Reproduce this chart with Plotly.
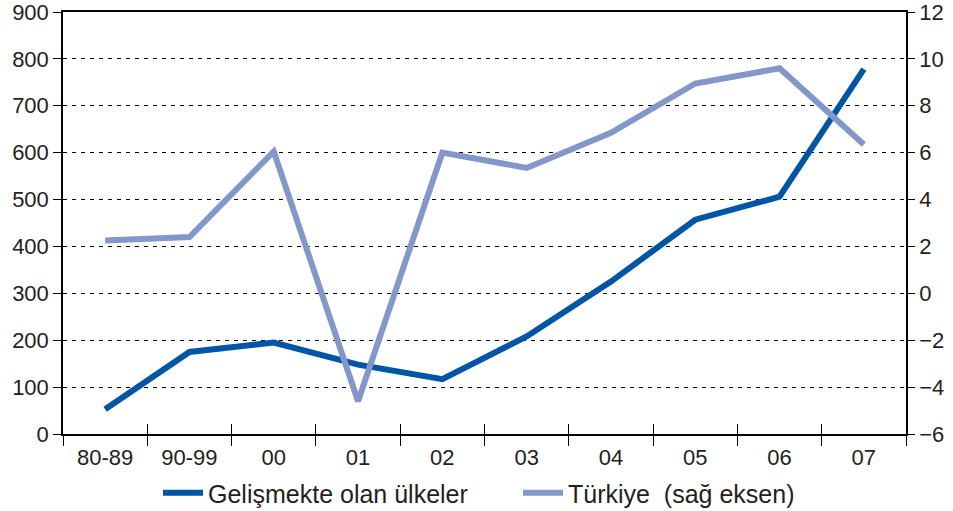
import plotly.graph_objects as go

categories = ["80-89", "90-99", "00", "01", "02", "03", "04", "05", "06", "07"]
gelismekte = [53, 175, 195, 148, 117, 208, 325, 457, 506, 778]
turkiye = [2.25, 2.4, 6.05, -4.6, 6.0, 5.35, 6.85, 8.95, 9.6, 6.35]
left_ticks = [0, 100, 200, 300, 400, 500, 600, 700, 800, 900]
right_ticks = [-6, -4, -2, 0, 2, 4, 6, 8, 10, 12]

DARK = "#0055A5"
LIGHT = "#8497CB"
TXT = "#231F20"
FONT = "Liberation Sans, Arial, sans-serif"
FS = 22

fig = go.Figure()
fig.add_trace(go.Scatter(x=categories, y=gelismekte, mode="lines",
                         name="Gelişmekte olan ülkeler",
                         line=dict(color=DARK, width=6), xaxis="x", yaxis="y"))
fig.add_trace(go.Scatter(x=categories, y=turkiye, mode="lines",
                         name="Türkiye  (sağ eksen)",
                         line=dict(color=LIGHT, width=6), xaxis="x", yaxis="y2"))
# invisible trace to carry the inner tick marks of the bottom axis
fig.add_trace(go.Scatter(x=categories, y=gelismekte, mode="lines", showlegend=False,
                         hoverinfo="skip", line=dict(width=0, color="rgba(0,0,0,0)"),
                         xaxis="x2", yaxis="y"))

fig.update_layout(
    width=953, height=511,
    margin=dict(l=63, r=47, t=12, b=77, autoexpand=False),
    paper_bgcolor="white", plot_bgcolor="white",
    font=dict(family=FONT, size=FS, color=TXT),
    showlegend=True,
    legend=dict(orientation="h", x=(164 - 63 - 6) / 843, xanchor="left",
                y=-0.14, yanchor="middle",
                font=dict(size=25, color=TXT), itemwidth=40,
                entrywidth=305, entrywidthmode="pixels"),
    xaxis=dict(type="category", categoryorder="array", categoryarray=categories,
               range=[-0.5, 9.5], tickson="boundaries", ticks="outside", ticklen=10,
               tickcolor="#000", tickwidth=1, showline=True, linecolor="#000",
               linewidth=1.5, mirror=True, showgrid=False, zeroline=False,
               automargin=False, ticklabelstandoff=3, tickfont=dict(size=FS, color=TXT)),
    xaxis2=dict(type="category", categoryorder="array", categoryarray=categories,
                range=[-0.5, 9.5], overlaying="x", tickson="boundaries", ticks="inside",
                ticklen=10, tickcolor="#000", tickwidth=1, showticklabels=False,
                showline=False, showgrid=False, zeroline=False, side="bottom",
                automargin=False),
    yaxis=dict(range=[0, 900], tickvals=left_ticks, ticks="outside", ticklen=8,
               tickcolor="#000", showline=True, linecolor="#000", linewidth=1.5,
               showgrid=True, gridcolor="#000", gridwidth=1, griddash="4px,5px",
               zeroline=False, automargin=False, ticklabeloverflow="allow",
               tickfont=dict(size=FS, color=TXT)),
    yaxis2=dict(range=[-6, 12], tickvals=right_ticks, overlaying="y", side="right",
                ticks="outside", ticklen=7, tickcolor="#000", showline=True,
                linecolor="#000", linewidth=1.5, showgrid=False, zeroline=False,
                automargin=False, ticklabeloverflow="allow",
                tickfont=dict(size=FS, color=TXT)),
)

fig.write_html("out.html", config={"displayModeBar": False},
               post_script="document.body.style.margin='0';document.body.style.overflow='hidden';")
